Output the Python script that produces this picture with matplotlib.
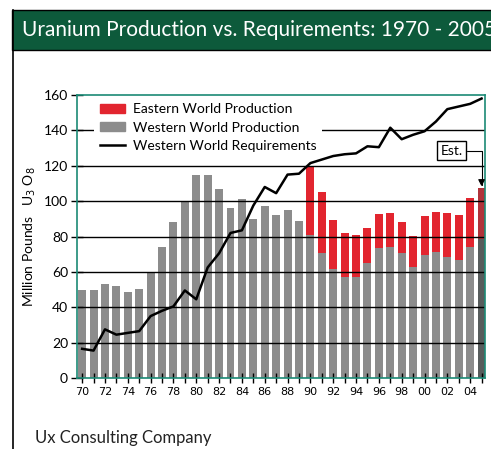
import matplotlib
matplotlib.use('Agg')
from matplotlib import pyplot as plt
from matplotlib.patches import Rectangle, Patch
from matplotlib.lines import Line2D

plt.rcParams['font.family'] = ['Lato', 'DejaVu Sans']

# data ------------------------------------------------------------
years = list(range(1970, 2006))
western = [49.5, 50, 53, 52, 48.5, 50.5, 60, 74, 88, 100,
           114.5, 114.5, 107, 96, 101, 90, 97, 92, 95, 89,
           81, 70.5, 61.5, 57, 57, 65, 73.5, 74, 70.5, 62.5,
           69.5, 71, 68.5, 66.5, 74, 78.5]
total = [49.5, 50, 53, 52, 48.5, 50.5, 60, 74, 88, 100,
         114.5, 114.5, 107, 96, 101, 90, 97, 92, 95, 89,
         120, 105, 89.5, 82, 81, 85, 93, 93.5, 88, 80.5,
         91.5, 94, 93.5, 92, 102, 107.5]
eastern = [t - w for t, w in zip(total, western)]
requirements = [16.5, 15.5, 27.5, 24.5, 25.5, 26.5, 35, 38, 40.5, 49.5,
                44.5, 62.5, 70.5, 82, 83.5, 97.5, 108, 104.5, 115, 115.5,
                121.5, 123.5, 125.5, 126.5, 127, 131, 130.5, 141.5, 135, 137.5,
                139.5, 145, 152, 153.5, 155, 158]

gray = ['#8c8c8c'] * (len(years) - 1) + ['#575c5c']
red = ['#e2252f'] * (len(years) - 1) + ['#b0333a']

fig = plt.figure(figsize=(4.91, 4.49), dpi=100)

# title banner and left border
fig.patches.append(Rectangle((12/491, 1 - 50/449), 1, 40/449, transform=fig.transFigure,
                             facecolor='#0d5a3b', edgecolor='black', linewidth=1, zorder=0))
fig.add_artist(Line2D([12.5/491, 12.5/491], [0, 1 - 10/449], transform=fig.transFigure,
                      color='black', linewidth=1.2))
fig.text(22/491, 1 - 30/449, 'Uranium Production vs. Requirements: 1970 - 2005',
         color='white', fontsize=15, va='center', ha='left')
fig.text(35/491, 1 - 438/449, 'Ux Consulting Company', fontsize=12, va='center', ha='left',
         color='#222222')

ax = fig.add_axes([77/491, 71/449, 408/491, 283/449])
ax.bar(years, western, width=0.7, color=gray, zorder=1)
ax.bar(years, eastern, bottom=western, width=0.7, color=red, zorder=1)
for v in range(20, 160, 20):
    ax.axhline(v, color='black', linewidth=1, zorder=2)
ax.plot(years, requirements, color='black', linewidth=1.8, zorder=3)

ax.set_xlim(1969.55, 2005.3)
ax.set_ylim(0, 160)
ax.set_yticks(range(0, 161, 20))
ax.set_xticks(years)
ax.set_xticklabels([str(y)[-2:] if y % 2 == 0 else '' for y in years])
for lab in ax.get_xticklabels():
    lab.set_family(['Liberation Sans Narrow', 'DejaVu Sans'])
ax.tick_params(axis='x', direction='inout', length=7, width=1, labelsize=8, pad=3)
ax.tick_params(axis='y', direction='inout', length=9, width=1, labelsize=10, pad=2)
for s in ax.spines.values():
    s.set_color('#1b8a76')
    s.set_linewidth(1.2)
ax.set_ylabel('Million Pounds   U$_3$ O$_8$', fontsize=10, labelpad=4)

handles = [Patch(color='#e2252f'), Patch(color='#8c8c8c'),
           Line2D([], [], color='black', linewidth=1.8)]
leg = ax.legend(handles, ['Eastern World Production', 'Western World Production',
                          'Western World Requirements'],
                loc='upper left', bbox_to_anchor=(0.035, 1.0), fontsize=10,
                frameon=True, facecolor='white', edgecolor='none', framealpha=1,
                handlelength=1.8, handleheight=0.6, handletextpad=0.6,
                labelspacing=0.45, borderpad=0.4, borderaxespad=0.2)
leg.set_zorder(4)

ax.annotate('Est.', xy=(2005, total[-1]), xytext=(2002.4, 128.5),
            ha='center', va='center', fontsize=10,
            bbox=dict(boxstyle='square,pad=0.25', facecolor='white', edgecolor='black',
                      linewidth=1),
            arrowprops=dict(arrowstyle='-|>', color='black', linewidth=0.8,
                            connectionstyle='angle,angleA=0,angleB=90,rad=0',
                            shrinkA=0, shrinkB=1),
            zorder=5)

plt.savefig('out.png', dpi=100)
